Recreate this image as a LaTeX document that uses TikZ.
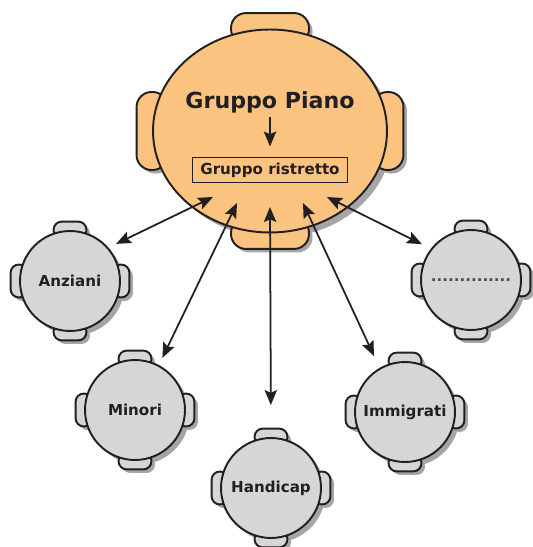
\documentclass[tikz,border=0pt]{standalone}
\usepackage{fontspec}
\setmainfont{DejaVu Sans}
\usetikzlibrary{arrows.meta, shapes.geometric, shadows}

\definecolor{arancio}{RGB}{250,196,128}
\definecolor{grigio}{RGB}{214,214,214}
\definecolor{bordo}{RGB}{35,31,32}
\definecolor{ombra}{RGB}{165,165,165}

\pgfdeclarelayer{ombre}
\pgfdeclarelayer{orecchie}
\pgfsetlayers{ombre,orecchie,main}

\tikzset{
  tavolo/.style={circle, draw=bordo, line width=1.1pt, fill=grigio, minimum size=2cm, inner sep=0pt,
    text=bordo, font=\fontsize{8.6}{10}\selectfont\bfseries},
  orecchio/.style={draw=bordo, line width=1.1pt, inner sep=0pt,
    drop shadow={shadow xshift=2pt, shadow yshift=-2pt, fill=ombra, opacity=1}},
  freccia/.style={line width=1pt, draw=bordo,
    {Stealth[length=8.5pt,width=7pt,inset=1.5pt]}-{Stealth[length=8.5pt,width=7pt,inset=1.5pt]}}
}

\begin{document}
\begin{tikzpicture}[x=0.02cm, y=-0.02cm]
\useasboundingbox (0,0) rectangle (532,547);

\node[ellipse, draw=bordo, line width=1.1pt, fill=arancio, minimum width=4.68cm, minimum height=4.06cm] (piano) at (270,131) {};
\node[text=bordo, font=\fontsize{12.6}{15}\selectfont\bfseries, inner sep=2pt] (titolo) at (270,102) {Gruppo Piano};
\node[draw=bordo, line width=1.1pt, text=bordo, font=\fontsize{8.6}{10}\selectfont\bfseries,
      minimum width=3.1cm, minimum height=0.5cm, inner sep=0pt] (ristretto) at (270,170) {Gruppo ristretto};

\node[tavolo] (anz) at (70,281) {Anziani};
\node[tavolo] (min) at (135,410) {Minori};
\node[tavolo] (hand) at (271,488) {Handicap};
\node[tavolo] (imm) at (405,412) {Immigrati};
\node[tavolo, font=\fontsize{8.6}{10}\selectfont\bfseries, text=bordo!80] (altri) at (471,280) {..............};

% orecchie dei tavoli
\begin{pgfonlayer}{orecchie}
\node[orecchio, fill=arancio, rounded corners=8.5pt, minimum width=1.56cm, minimum height=0.62cm] at (piano.north) {};
\node[orecchio, fill=arancio, rounded corners=8.5pt, minimum width=1.56cm, minimum height=0.62cm] at (piano.south) {};
\node[orecchio, fill=arancio, rounded corners=8.5pt, minimum width=0.62cm, minimum height=1.56cm] at (piano.west) {};
\node[orecchio, fill=arancio, rounded corners=8.5pt, minimum width=0.62cm, minimum height=1.56cm] at (piano.east) {};
\foreach \t in {anz,min,hand,imm,altri} {
  \node[orecchio, fill=grigio, rounded corners=4.8pt, minimum width=0.66cm, minimum height=0.34cm] at (\t.north) {};
  \node[orecchio, fill=grigio, rounded corners=4.8pt, minimum width=0.66cm, minimum height=0.34cm] at (\t.south) {};
  \node[orecchio, fill=grigio, rounded corners=4.8pt, minimum width=0.34cm, minimum height=0.66cm] at (\t.west) {};
  \node[orecchio, fill=grigio, rounded corners=4.8pt, minimum width=0.34cm, minimum height=0.66cm] at (\t.east) {};
}
\end{pgfonlayer}

% ombre
\begin{pgfonlayer}{ombre}
\fill[ombra] ([shift={(3pt,-3pt)}]piano.center) ellipse (2.34cm and 2.03cm);
\foreach \t in {anz,min,hand,imm,altri}
  \fill[ombra] ([shift={(2.5pt,-2.5pt)}]\t.center) circle (1cm);
\end{pgfonlayer}

\coordinate (p1) at (213,197);
\coordinate (p2) at (237,203);
\coordinate (p3) at (270,207);
\coordinate (p4) at (303,203);
\coordinate (p5) at (327,197);

\draw[line width=1pt, draw=bordo, -{Stealth[length=8.5pt,width=7pt,inset=1.5pt]}, shorten >=5.7pt] (titolo.south) -- (ristretto.north);

\draw[freccia, shorten >=0.17cm] (p1) -- (anz.41);
\draw[freccia, shorten >=0.16cm] (p2) -- (min.62);
\draw[freccia, shorten >=0.64cm] (p3) -- (hand.north);
\draw[freccia, shorten >=0.26cm] (p4) -- (imm.120);
\draw[freccia, shorten >=0.2cm] (p5) -- (altri.142);
\end{tikzpicture}
\end{document}
